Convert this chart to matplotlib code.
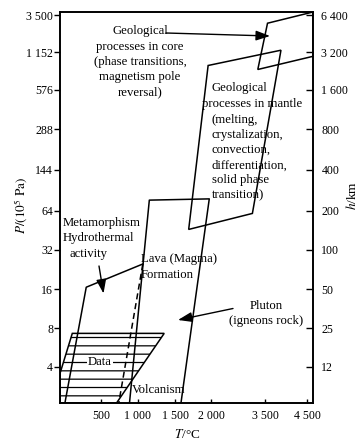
import numpy as np
import matplotlib
matplotlib.use("Agg")
import matplotlib.pyplot as plt

plt.rcParams['font.family'] = 'Liberation Serif'
plt.rcParams['mathtext.fontset'] = 'stix'
plt.rcParams['hatch.linewidth'] = 0.9

W, H = 359, 447  # output size in pixels

# --- data (T in degC, P in 10^5 Pa) ---
meta_T = [60, 320, 1065]           # metamorphism / hydrothermal boundary
meta_P = [2.1, 16.6, 25]
lava_T = [885, 1153, 1976, 1583]   # lava (magma) formation
lava_P = [2.1, 79, 81, 2.1]
dash_T = [1065, 740]               # dashed boundary
dash_P = [25, 2.1]
mantle_T = [1690, 3150, 3880, 1960]
mantle_P = [46, 61, 1226, 904]
core_T = [3560, 4650, 4650, 3300]
core_P = [2740, 3830, 1070, 840]
data_T = [0, 150, 1354, 710, 0]    # hatched "Data" region
data_P = [3.55, 7.3, 7.3, 2.1, 2.1]

# tick values and labels
T_TICKS = [500, 1000, 1500, 2000, 3500, 4500]
T_LABELS = ['500', '1 000', '1 500', '2 000', '3 500', '4 500']
P_TICKS = [4, 8, 16, 32, 64, 144, 288, 576, 1152, 3500]
P_LABELS = ['4', '8', '16', '32', '64', '144', '288', '576', '1 152', '3 500']
H_LABELS = ['12', '25', '50', '100', '200', '400', '800', '1 600', '3 200', '6 400']

# the axes of the original are not regular, so use a piecewise scale
T_KNOTS = [0, 500, 1000, 1500, 2000, 3500, 4500, 4650]
T_OFFS = [0, 41, 78, 115, 151, 205, 247, 253]
P_KNOTS = [2.1, 4, 8, 16, 32, 64, 144, 288, 576, 1152, 3500, 3830]
P_OFFS = [0, 36.3, 74.7, 113.7, 153, 192.3, 233, 273.7, 313, 350.7, 388, 391]


def t_fwd(t):
    return np.interp(t, T_KNOTS, T_OFFS)


def t_inv(v):
    return np.interp(v, T_OFFS, T_KNOTS)


def p_fwd(p):
    return np.interp(np.log(np.clip(p, 1e-6, None)), np.log(P_KNOTS), P_OFFS)


def p_inv(v):
    return np.exp(np.interp(v, P_OFFS, np.log(P_KNOTS)))


def fxy(x, y):
    # pixel position in the picture -> figure fraction
    return (x / W, 1 - y / H)


fig = plt.figure(figsize=(W / 100, H / 100), dpi=100)
ax = fig.add_axes([60 / W, 1 - 403 / H, 253 / W, 391 / H])
ax.set_xscale('function', functions=(t_fwd, t_inv))
ax.set_yscale('function', functions=(p_fwd, p_inv))
ax.set_xlim(0, 4650)
ax.set_ylim(2.1, 3830)

lw = 1.1
ax.plot(meta_T, meta_P, color='k', lw=lw)
ax.plot(lava_T, lava_P, color='k', lw=lw)
ax.plot(dash_T, dash_P, color='k', lw=lw, ls=(0, (4, 2.5)))
ax.fill(mantle_T, mantle_P, fill=False, ec='k', lw=lw)
ax.fill(core_T, core_P, fill=False, ec='k', lw=lw)
ax.fill(data_T, data_P, fc='none', ec='k', hatch='--', lw=lw)

ax.set_xticks(T_TICKS, labels=T_LABELS)
ax.set_yticks(P_TICKS, labels=P_LABELS)
ax.minorticks_off()
ax.tick_params(axis='x', direction='in', length=3, width=1, pad=5, labelsize=8.6)
ax.tick_params(axis='y', direction='out', length=4, width=1, pad=1, labelsize=8.6)

ax2 = ax.twinx()
ax2.set_yscale('function', functions=(p_fwd, p_inv))
ax2.set_ylim(2.1, 3830)
ax2.set_yticks(P_TICKS, labels=H_LABELS)
ax2.minorticks_off()
ax2.tick_params(axis='y', direction='in', length=5, width=1, pad=6, labelsize=8.6)

for a in (ax, ax2):
    for s in a.spines.values():
        s.set_linewidth(1.2)

# axis titles
fig.text(*fxy(21, 205), r'$P/(10^5\ \mathrm{Pa})$', rotation=90, ha='center', va='center', fontsize=9.5)
fig.text(*fxy(352, 195), r'$h$/km', rotation=90, ha='center', va='center', fontsize=9.5)
fig.text(*fxy(187, 435), r'$T$/°C', ha='center', va='center', fontsize=9.5)

fs = 9.2
ls = 1.35
fig.text(*fxy(140, 61.7), 'Geological\nprocesses in core\n(phase transitions,\nmagnetism pole\nreversal)',
         ha='center', va='center', fontsize=fs, linespacing=ls, multialignment='center')
fig.text(*fxy(212, 88), 'Geological', ha='left', va='center', fontsize=fs)
fig.text(*fxy(202, 103.5), 'processes in mantle', ha='left', va='center', fontsize=fs)
fig.text(*fxy(212, 157.7), '(melting,\ncrystalization,\nconvection,\ndifferentiation,\nsolid phase\ntransition)',
         ha='left', va='center', fontsize=fs, linespacing=ls)
fig.text(*fxy(63, 230.8), 'Metamorphism\nHydrothermal', ha='left', va='center', fontsize=fs, linespacing=ls)
fig.text(*fxy(70, 254), 'activity', ha='left', va='center', fontsize=fs)
fig.text(*fxy(141, 267), 'Lava (Magma)\nFormation', ha='left', va='center', fontsize=fs, linespacing=ls)
fig.text(*fxy(266, 313.7), 'Pluton\n(igneons rock)', ha='center', va='center', fontsize=fs,
         linespacing=ls, multialignment='center')
fig.text(*fxy(100, 361.7), 'Data', ha='center', va='center', fontsize=fs,
         bbox=dict(fc='white', ec='none', pad=0.5))
fig.text(*fxy(132, 390), 'Volcanism', ha='left', va='center', fontsize=fs)

# arrows
arrow = dict(arrowstyle='-|>,head_length=0.85,head_width=0.3', color='k', lw=1,
             shrinkA=0, shrinkB=0, mutation_scale=10)
for tail, tip in [((166, 33), (270, 36)), ((99, 266), (103.5, 293.5)), ((233, 308.5), (178, 320))]:
    ax.annotate('', xy=fxy(*tip), xycoords='figure fraction',
                xytext=fxy(*tail), textcoords='figure fraction', arrowprops=arrow)

fig.savefig('out.png', dpi=100)
